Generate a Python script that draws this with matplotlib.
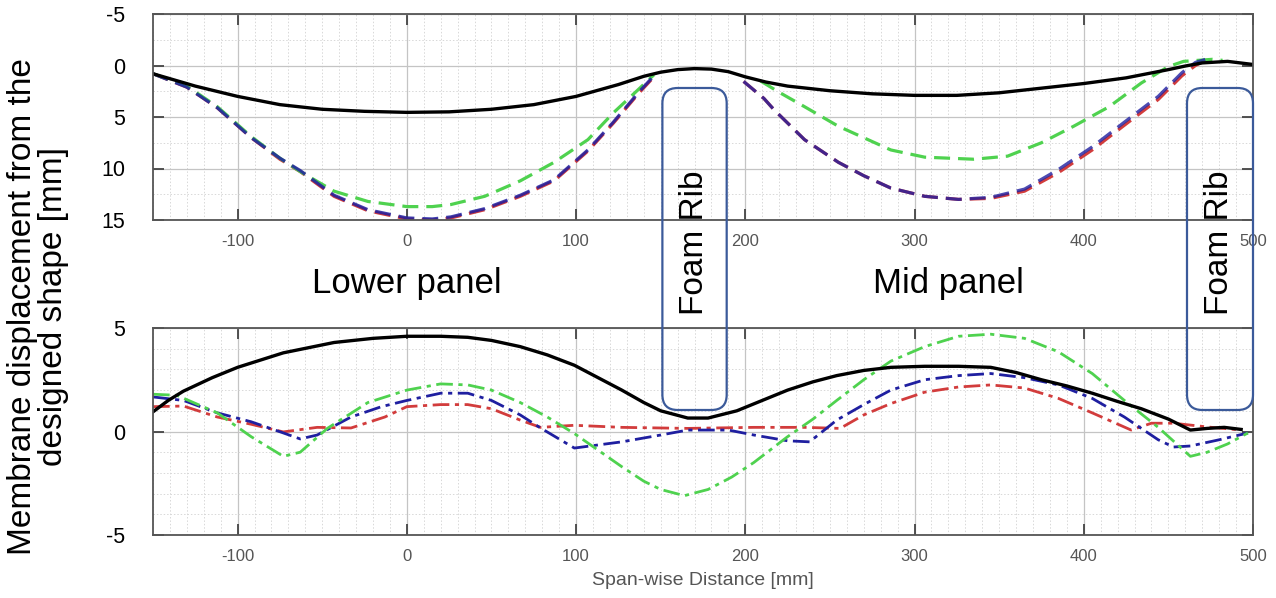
import matplotlib
matplotlib.use("Agg")
import matplotlib.pyplot as plt
from matplotlib.patches import FancyBboxPatch
from matplotlib.ticker import MultipleLocator

plt.rcParams['font.family'] = ['Liberation Sans', 'DejaVu Sans']
plt.rcParams['axes.unicode_minus'] = False
NARROW = ['Liberation Sans Narrow', 'Liberation Sans', 'DejaVu Sans']

# ---- upper plot: membrane displacement (y axis inverted) ----
x_top_black = [-150, -125, -100, -75, -50, -25, 0, 25, 50, 75, 100, 125, 140, 150, 160, 170,
               180, 190, 200, 212, 225, 250, 275, 300, 325, 350, 375, 400, 425, 450, 460,
               470, 485, 500]
top_black = [0.8, 2.0, 3.0, 3.8, 4.25, 4.45, 4.55, 4.5, 4.25, 3.8, 3.0, 1.85, 1.05, 0.65, 0.4, 0.3,
             0.35, 0.6, 1.1, 1.6, 2.0, 2.45, 2.75, 2.9, 2.9, 2.65, 2.2, 1.75, 1.2, 0.4, 0.05,
             -0.25, -0.4, -0.1]

x_low = [-150, -130, -112, -92, -75, -63, -43, -23, 0, 15, 26, 46, 67, 87, 107, 122, 137, 146]
green_low = [0.8, 2.0, 4.0, 6.9, 9.0, 10.3, 12.2, 13.2, 13.7, 13.7, 13.5, 12.7, 11.2, 9.4, 7.2, 4.6, 2.3, 0.9]
blue_low = [0.8, 2.1, 4.1, 7.0, 9.0, 10.2, 12.6, 14.0, 14.8, 14.9, 14.7, 13.9, 12.6, 11.1, 8.2, 5.5, 2.6, 1.0]
red_low = [0.8, 2.1, 4.1, 7.0, 9.1, 10.3, 12.7, 14.1, 14.9, 15.0, 14.8, 14.0, 12.7, 11.2, 8.3, 5.6, 2.7, 1.1]

x_mid = [199, 211, 217, 235, 255, 270, 286, 306, 326, 345, 365, 385, 405, 424, 444, 458, 466, 472]
blue_mid = [1.55, 3.2, 4.3, 7.2, 9.4, 10.7, 11.9, 12.7, 13.0, 12.8, 12.0, 10.1, 7.9, 5.5, 3.0, 0.7, -0.3, -0.6]
red_mid = [1.55, 3.2, 4.3, 7.2, 9.4, 10.7, 11.9, 12.7, 13.0, 12.9, 12.2, 10.4, 8.2, 5.8, 3.3, 1.0, 0.0, -0.5]
x_gmid = [209, 220, 235, 255, 286, 306, 335, 355, 375, 394, 415, 434, 450, 459, 476, 482]
green_mid = [1.5, 2.6, 4.0, 5.9, 8.2, 8.9, 9.1, 8.8, 7.5, 5.9, 4.0, 1.7, 0.1, -0.4, -0.6, -0.5]

# ---- lower plot ----
x_bot_black = [-150, -141, -132, -115, -100, -73, -43, -20, 0, 20, 36, 50, 67, 83, 99, 113, 127, 140,
               150, 166, 178, 195, 210, 225, 240, 254, 270, 286, 306, 326, 345, 360, 375, 390,
               405, 420, 434, 450, 463, 473, 483, 493]
bot_black = [0.95, 1.5, 1.95, 2.6, 3.1, 3.8, 4.3, 4.5, 4.6, 4.6, 4.55, 4.4, 4.1, 3.7, 3.2, 2.6, 2.0, 1.4,
             1.0, 0.65, 0.65, 1.0, 1.5, 2.0, 2.4, 2.7, 2.95, 3.1, 3.15, 3.15, 3.1, 2.85, 2.5, 2.2,
             1.85, 1.45, 1.1, 0.6, 0.07, 0.15, 0.2, 0.1]

x_gb = [-150, -136, -112, -92, -73, -63, -47, -23, 0, 20, 36, 50, 67, 83, 99, 113, 127, 140, 150,
        164, 178, 192, 205, 225, 240, 254, 270, 286, 306, 326, 345, 365, 385, 405, 424, 444,
        463, 473, 485, 497]
green_bot = [1.8, 1.75, 0.9, -0.25, -1.2, -1.0, 0.15, 1.4, 2.0, 2.3, 2.25, 2.0, 1.4, 0.7, -0.1,
             -0.9, -1.7, -2.4, -2.8, -3.1, -2.8, -2.2, -1.5, -0.25, 0.6, 1.5, 2.5, 3.4, 4.1, 4.6,
             4.7, 4.5, 3.85, 2.8, 1.5, 0.2, -1.2, -1.0, -0.6, -0.07]

x_bb = [-150, -132, -112, -92, -73, -63, -53, -33, -15, 0, 20, 36, 50, 67, 79, 99, 113, 127, 150,
        166, 190, 205, 225, 238, 254, 270, 286, 306, 326, 345, 365, 385, 405, 424, 444, 453,
        463, 480, 497]
blue_bot = [1.67, 1.5, 0.9, 0.47, -0.07, -0.36, -0.17, 0.7, 1.2, 1.5, 1.85, 1.85, 1.5, 0.8, 0.17,
            -0.8, -0.65, -0.5, -0.17, 0.07, 0.07, -0.17, -0.45, -0.5, 0.55, 1.3, 2.0, 2.5, 2.7,
            2.8, 2.6, 2.25, 1.6, 0.7, -0.4, -0.75, -0.7, -0.4, -0.07]

x_rb = [-150, -132, -112, -92, -73, -53, -33, -13, 0, 20, 36, 50, 67, 79, 99, 127, 166, 205, 235,
        256, 270, 286, 306, 326, 345, 365, 385, 405, 428, 440, 453, 473, 493]
red_bot = [1.2, 1.23, 0.7, 0.35, -0.02, 0.2, 0.17, 0.7, 1.2, 1.3, 1.3, 1.1, 0.55, 0.2, 0.3, 0.2,
           0.15, 0.2, 0.2, 0.15, 0.8, 1.35, 1.9, 2.15, 2.25, 2.1, 1.6, 0.9, 0.07, 0.4, 0.4, 0.22, 0.07]

ribs = [(151, 189), (461, 500)]
panel_labels = [("Lower panel", 0), ("Mid panel", 320)]

GREEN = '#4fd24f'
BLUE = '#1f1fa0'
RED = '#d23c3c'

W, H = 1276, 598
fig = plt.figure(figsize=(W / 100, H / 100), dpi=100)
ax1 = fig.add_axes([153 / W, 1 - 220 / H, 1100 / W, 206 / H])
ax2 = fig.add_axes([153 / W, 1 - 535 / H, 1100 / W, 207 / H])


def style_axes(ax, ymaj, ymin):
    ax.set_xlim(-150, 500)
    ax.xaxis.set_major_locator(MultipleLocator(100))
    ax.xaxis.set_minor_locator(MultipleLocator(10))
    ax.yaxis.set_major_locator(MultipleLocator(ymaj))
    ax.yaxis.set_minor_locator(MultipleLocator(ymin))
    ax.grid(which='major', color='#c4c4c4', lw=0.9)
    ax.grid(which='minor', color='#d8d8d8', lw=0.7, ls=(0, (1.5, 2)))
    ax.set_axisbelow(True)
    ax.tick_params(which='major', direction='in', length=8, width=1.3, color='#444444',
                   top=True, right=True, pad=8)
    ax.tick_params(which='minor', length=0)
    ax.tick_params(axis='y', labelsize=15.5, labelcolor='black', pad=20)
    ax.tick_params(axis='x', labelsize=12, labelcolor='#555555', pad=10)
    for lab in ax.get_xticklabels():
        lab.set_family(NARROW)
    for s in ax.spines.values():
        s.set_color('#555555')
        s.set_linewidth(1.3)


# upper
ax1.plot(x_low, red_low, color=RED, lw=2.3, ls=(0, (5, 2.5)))
ax1.plot(x_low, green_low, color=GREEN, lw=2.3, ls=(0, (5, 2.5)))
ax1.plot(x_low, blue_low, color=BLUE, lw=2.3, ls=(0, (5, 2.5)), alpha=0.85)
ax1.plot(x_mid, red_mid, color=RED, lw=2.3, ls=(0, (5, 2.5)))
ax1.plot(x_gmid, green_mid, color=GREEN, lw=2.3, ls=(0, (5, 2.5)))
ax1.plot(x_mid, blue_mid, color=BLUE, lw=2.3, ls=(0, (5, 2.5)), alpha=0.8)
ax1.plot(x_top_black, top_black, color='black', lw=2.4)
ax1.set_ylim(15, -5)
style_axes(ax1, 5, 2.5)

# lower
ax2.plot(x_rb, red_bot, color=RED, lw=2.0, ls=(0, (6, 2, 1.5, 2)))
ax2.plot(x_bb, blue_bot, color=BLUE, lw=2.0, ls=(0, (6, 2, 1.5, 2)))
ax2.plot(x_gb, green_bot, color=GREEN, lw=2.0, ls=(0, (6, 2, 1.5, 2)))
ax2.plot(x_bot_black, bot_black, color='black', lw=2.4)
ax2.set_ylim(-5, 5)
style_axes(ax2, 5, 1)
ax2.set_xlabel('Span-wise Distance [mm]', fontsize=14, color='#555555',
               family=NARROW, labelpad=6)

fig.text(38 / W, 1 - 307 / H, 'Membrane displacement from the\ndesigned shape [mm]',
         rotation=90, ha='center', va='center', fontsize=24, linespacing=1.0)

# panel names and foam rib boxes (x in data units of the shared span axis)
to_fig = lambda xd: fig.transFigure.inverted().transform(ax1.transData.transform((xd, 0)))[0]
for name, xd in panel_labels:
    fig.text(to_fig(xd), 1 - 284 / H, name, ha='center', va='center', fontsize=25,
             family=NARROW)

for x0, x1 in ribs:
    f0, f1 = to_fig(x0), to_fig(x1)
    y0, y1 = 1 - 410 / H, 1 - 88 / H
    box = FancyBboxPatch((f0, y0), f1 - f0, y1 - y0, transform=fig.transFigure,
                         boxstyle='round,pad=0,rounding_size=0.012',
                         mutation_aspect=W / H, fill=False, ec='#3b5a9a', lw=1.6,
                         zorder=10)
    fig.add_artist(box)
    fig.text((f0 + f1) / 2, 1 - 243 / H, 'Foam Rib', rotation=90, ha='center',
             va='center', fontsize=24, zorder=11)

fig.savefig('out.png', dpi=100)
